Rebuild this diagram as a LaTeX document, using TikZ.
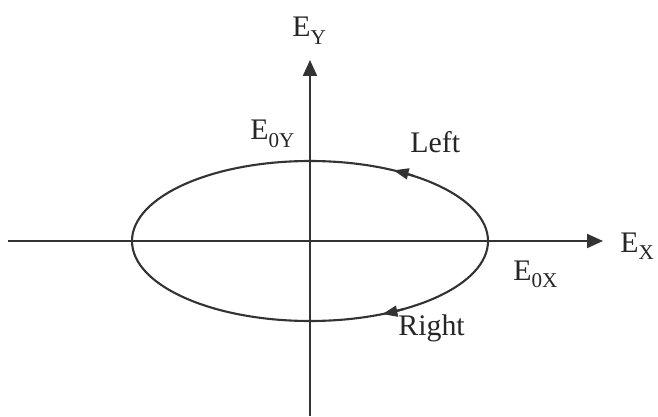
\documentclass[tikz,border=0pt]{standalone}
\usepackage{fontspec}
\setmainfont{Liberation Serif}
\usepackage{tikz}
\usetikzlibrary{arrows.meta, positioning}

% subscript in upright letters
\newcommand{\lowsub}[1]{\raisebox{-4pt}{\fontsize{12}{12}\selectfont #1}}

\begin{document}
\begin{tikzpicture}[
    x=0.02cm, y=0.02cm,
    axis_line/.style={line width=1.2pt, draw=black!80, -{Triangle[length=0.32cm, width=0.28cm]}},
    orbit_line/.style={line width=1.2pt, draw=black!80},
    turn_tip/.style={line width=1.2pt, draw=black!80, -{Triangle[length=0.3cm, width=0.22cm]}},
    lbl/.style={anchor=base west, inner sep=0pt, font=\fontsize{17}{20}\selectfont, text=black!85}
]
    \useasboundingbox (0,0) rectangle (658,416);

    % Axes
    \coordinate (origin) at (310,175);
    \coordinate (x_start) at (8,175);
    \coordinate (x_end) at (603,175);
    \coordinate (y_start) at (310,0);
    \coordinate (y_end) at (310,356);
    \draw [axis_line] (x_start) -- (x_end);
    \draw [axis_line] (y_start) -- (y_end);

    % Polarisation ellipse
    \draw [orbit_line] (origin) ellipse [x radius=178, y radius=80];
    \draw [turn_tip] ([shift={(origin)}]54:178 and 80) arc [start angle=54, end angle=62, x radius=178, y radius=80];
    \draw [turn_tip] ([shift={(origin)}]-58:178 and 80) arc [start angle=-58, end angle=-66, x radius=178, y radius=80];

    % Labels
    \node (ey_label) [lbl] at (292,379) {E\lowsub{Y}};
    \node (ex_label) [lbl] at (620,164) {E\lowsub{X}};
    \node (e0y_label) [lbl] at (250,276) {E\lowsub{0Y}};
    \node (e0x_label) [lbl] at (513,136) {E\lowsub{0X}};
    \node (left_label) [lbl] at (410,263) {Left};
    \node (right_label) [lbl] at (398,81) {Right};
\end{tikzpicture}
\end{document}
